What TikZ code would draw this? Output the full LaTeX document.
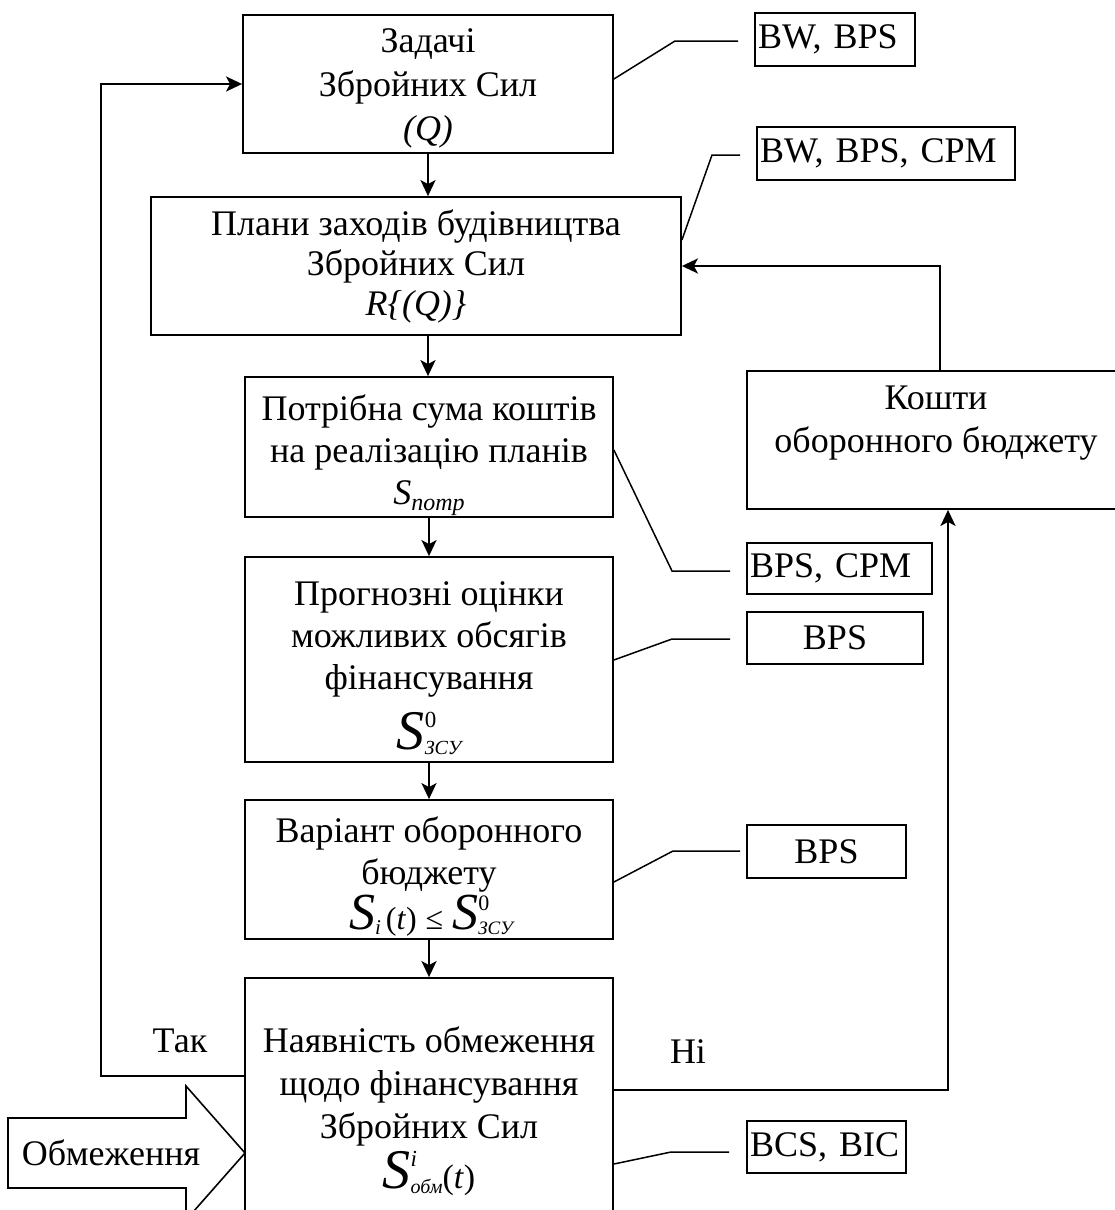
\documentclass[tikz,border=0pt]{standalone}
\usepackage{fontspec}
\setmainfont{Liberation Serif}
\usetikzlibrary{arrows.meta}
\newcommand{\BigSym}[2]{{\fontsize{56}{56}\selectfont\itshape S}\rlap{\raisebox{22pt}{\fontsize{23}{23}\selectfont #1}}\raisebox{-5pt}{\fontsize{20}{20}\selectfont\itshape #2}}
\newcommand{\MidSym}[2]{{\fontsize{52}{52}\selectfont\itshape S}\rlap{\raisebox{19pt}{\fontsize{22}{22}\selectfont #1}}\raisebox{-5pt}{\fontsize{19}{19}\selectfont\itshape #2}}
\newcommand{\TopPad}[1]{\rule{0pt}{#1pt}}
\begin{document}
\begin{tikzpicture}[x=1pt,y=-1pt,
  box/.style={draw, line width=1.8pt, align=center, inner sep=0pt,
    font=\fontsize{36}{43}\selectfont},
  tag/.style={draw, line width=1.6pt, inner ysep=0pt, inner xsep=3pt, font=\fontsize{36}{40}\selectfont},
  arr/.style={line width=2.4pt, -{Stealth[length=16pt,width=15pt,inset=4pt]}},
  thin/.style={line width=1.5pt},
  lbl/.style={font=\fontsize{36}{40}\selectfont, inner sep=0pt}]
\useasboundingbox (0,0) rectangle (1115,1210);
% main boxes
\node[box, font=\fontsize{36}{44}\selectfont, minimum width=370pt, minimum height=138pt] (b1) at (428,84) {\TopPad{33}Задачі\\Збройних Сил\\\textit{(Q)}};
\node[box, font=\fontsize{36}{40}\selectfont, minimum width=530pt, minimum height=138pt] (b2) at (416,266) {Плани заходів будівництва\\Збройних Сил\\\textit{R\{(Q)\}}};
\node[box, font=\fontsize{36}{42}\selectfont, minimum width=368pt, minimum height=140pt] (b3) at (429,447) {\TopPad{42}Потрібна сума коштів\\на реалізацію планів\\\textit{S}\raisebox{-6pt}{\fontsize{24}{24}\selectfont\itshape потр}};
\node[box, font=\fontsize{36}{42}\selectfont, minimum width=368pt, minimum height=205pt] (b4) at (429,659.5) {\TopPad{42}Прогнозні оцінки\\можливих обсягів\\фінансування\\[14pt]\BigSym{0}{ЗСУ}};
\node[box, minimum width=368pt, minimum height=139pt] (b5) at (429,869.5) {};
\node[lbl, anchor=base] (b5a) at (429,842) {Варіант оборонного};
\node[lbl, anchor=base] (b5b) at (429,884) {бюджету};
\node[lbl, anchor=base] (b5c) at (431,929) {{\fontsize{52}{52}\selectfont\itshape S}\raisebox{-5pt}{\fontsize{21}{21}\selectfont\itshape i}\hspace{5pt}{\fontsize{32}{32}\selectfont(\textit{t})\hspace{9pt}≤\hspace{9pt}}\MidSym{0}{ЗСУ}};
\node[box, minimum width=368pt, minimum height=266pt] (b6) at (429,1111) {Наявність обмеження\\щодо фінансування\\Збройних Сил\\[4pt]\BigSym{\itshape i}{обм}{\fontsize{34}{34}\selectfont(\textit{t})}};
\node[box, minimum width=378pt, minimum height=138pt] (k) at (936,440) {};
\node[lbl, align=center, font=\fontsize{36}{43}\selectfont] (kt) at (936,423) {Кошти\\оборонного бюджету};
% tag boxes
\node[tag, text width=154pt, align=left, minimum height=53pt] (t1) at (835,39.5) {BW, BPS};
\node[tag, text width=252pt, align=left, minimum height=53pt] (t2) at (886,153.5) {BW, BPS, CPM};
\node[tag, text width=179pt, align=left, minimum height=51pt] (t3) at (839.5,568.5) {BPS, CPM};
\node[tag, minimum width=176pt, minimum height=52pt] (t4) at (835,638) {BPS};
\node[tag, minimum width=159pt, minimum height=53pt] (t5) at (826.5,851.5) {BPS};
\node[tag, text width=153pt, align=left, minimum height=52pt] (t6) at (826.5,1147) {BCS, BIC};
% labels
\node[lbl] (tak) at (180,1041) {Так};
\node[lbl] (ni) at (688,1052) {Ні};
% big arrow
\draw[line width=1.6pt] (8,1118) -- (186,1118) -- (186,1086) -- (245,1153) -- (186,1220) -- (186,1188) -- (8,1188) -- cycle;
\node[lbl] (obm) at (111,1153) {Обмеження};
% main arrows
\draw[arr] (b1.south) -- (b1.south |- b2.north);
\draw[arr] (b1.south |- b2.south) -- (b1.south |- b3.north);
\draw[arr] (b3.south) -- (b4.north);
\draw[arr] (b4.south) -- (b5.north);
\draw[arr] (b5.south) -- (b6.north);
% feedback
\coordinate (fl) at (101,1076);
\coordinate (fr) at (948,1090);
\coordinate (ft) at (940,266);
\draw[arr] (b6.west |- fl) -- (fl) |- (b1.west);
\draw[arr] (b6.east |- fr) -- (fr) -- (fr |- k.south);
\draw[arr] (ft |- k.north) -- (ft) -- (b2.east);
% connectors to tags
\draw[thin] (b1.east |- 0,79) -- (675,41) -- (738,41);
\draw[thin] (b2.east |- 0,240) -- (712,155) -- (740,155);
\draw[thin] (b3.east |- 0,450) -- (672,571) -- (730,571);
\draw[thin] (b4.east |- 0,660) -- (672,639) -- (730,639);
\draw[thin] (b5.east |- 0,882) -- (673,851) -- (740,851);
\draw[thin] (b6.east |- 0,1164) -- (671,1152) -- (729,1152);
\end{tikzpicture}
\end{document}
